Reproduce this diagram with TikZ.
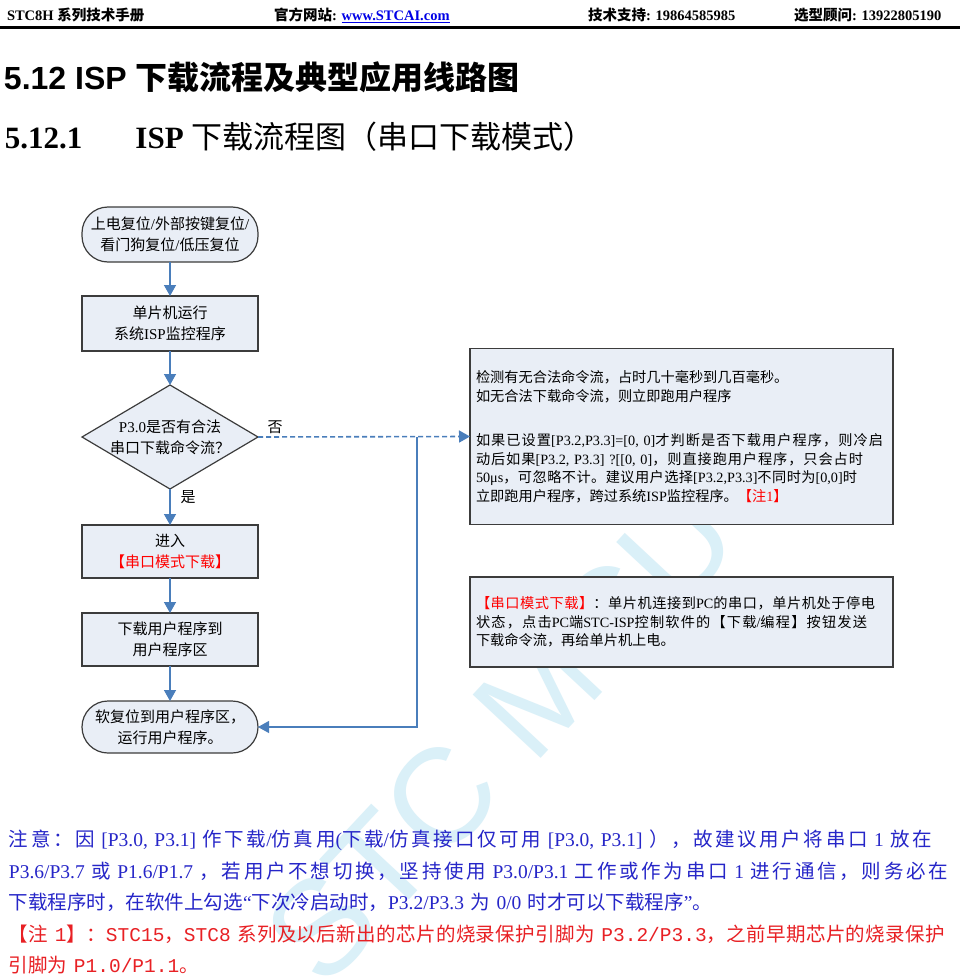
\documentclass[tikz,border=0pt]{standalone}
\usepackage{fontspec}
\setmainfont{Liberation Serif}
\setsansfont{Liberation Sans}
\setmonofont{Liberation Mono}
\newfontfamily\cjkf{Noto Sans CJK SC}
\newfontfamily\halfmono{Liberation Mono}
\usetikzlibrary{arrows.meta}

\XeTeXinterchartokenstate=1
\newXeTeXintercharclass\CJKcls
\makeatletter
\def\setcjkrange#1#2{\count@=#1\relax
  \loop\XeTeXcharclass\count@=\CJKcls\relax
  \ifnum\count@<#2\relax\advance\count@\@ne\repeat}
\setcjkrange{"3000}{"303F}
\setcjkrange{"4E00}{"9FFF}
\setcjkrange{"FF00}{"FFEF}
\makeatother
\def\latinfam{\rmfamily}
\XeTeXinterchartoks 0 \CJKcls = {\cjkf}
\XeTeXinterchartoks 4095 \CJKcls = {\cjkf}
\XeTeXinterchartoks \CJKcls 0 = {\latinfam}
\XeTeXinterchartoks \CJKcls 4095 = {\latinfam}
\XeTeXinterchartoks \CJKcls \CJKcls = {\hskip0pt plus 1pt\relax}

\definecolor{boxfill}{RGB}{233,238,246}
\definecolor{boxdraw}{RGB}{60,60,60}
\definecolor{arrowblue}{RGB}{74,126,187}
\definecolor{noteblue}{RGB}{38,38,200}
\definecolor{notered}{RGB}{232,32,36}
\definecolor{wmcol}{RGB}{218,240,248}
\definecolor{urlblue}{RGB}{0,0,230}

\begin{document}
\begin{tikzpicture}[x=1pt,y=-1pt,
  every node/.style={inner sep=0pt, outer sep=0pt},
  hdr/.style={anchor=west, font=\bfseries\fontsize{14.5}{16}\selectfont},
  fcbox/.style={draw=boxdraw, fill=boxfill, line width=1.2pt, minimum width=176pt,
    align=center, font=\fontsize{15}{21}\selectfont},
  proc/.style={fcbox},
  term/.style={fcbox, rounded corners=26pt},
  flow/.style={draw=arrowblue, line width=1.4pt, -{Triangle[length=11pt,width=12pt]}},
  lbl/.style={font=\fontsize{15}{18}\selectfont},
  infobox/.style={draw=boxdraw, fill=boxfill, line width=1.2pt, text width=411pt,
    inner xsep=6pt, align=left, font=\fontsize{14.2}{18.5}\selectfont},
  note/.style={anchor=north west, text width=945pt, align=left,
    font=\fontsize{19.5}{31.5}\selectfont},
]
\path[use as bounding box, fill=white] (0,0) rectangle (960,979);

% watermark
\node[font=\sffamily\fontsize{135}{135}\selectfont, text=wmcol, rotate=47] (wm) at (500,735) {STC MCU};

% header
\node[hdr] (h1) at (7,15) {STC8H 系列技术手册};
\node[hdr] (h2) at (274,15) {官方网站: \textcolor{urlblue}{\underline{www.STCAI.com}}};
\node[hdr] (h3) at (588,15) {技术支持: 19864585985};
\node[hdr] (h4) at (794,15) {选型顾问: 13922805190};
\draw[line width=2.5pt] (0,27.5) -- (960,27.5);

% titles
\node[anchor=west, font=\def\latinfam{\sffamily}\sffamily\bfseries\fontsize{32}{34}\selectfont] (t1title) at (4,77) {5.12 ISP 下载流程及典型应用线路图};
\node[anchor=west, font=\fontsize{31}{34}\selectfont] (t2title) at (5,137) {{\bfseries 5.12.1}\hspace{53pt}{\bfseries ISP} 下载流程图（串口下载模式）};

% flowchart
\node[term, minimum height=55pt] (s) at (170,234.5) {上电复位/外部按键复位/\\看门狗复位/低压复位};
\node[proc, minimum height=55pt] (p1) at (170,323.5) {单片机运行\\系统ISP监控程序};
\coordinate (dn) at (170,385);
\coordinate (de) at (258,437);
\coordinate (ds) at (170,489);
\coordinate (dw) at (82,437);
\filldraw[draw=boxdraw, fill=boxfill, line width=1.2pt] (dn) -- (de) -- (ds) -- (dw) -- cycle;
\node[align=center, font=\fontsize{15}{21}\selectfont] (d) at (170,437) {P3.0是否有合法\\串口下载命令流？};
\node[proc, minimum height=53pt] (p2) at (170,551.5) {进入\\\color{red}【串口模式下载】};
\node[proc, minimum height=53pt] (p3) at (170,639.5) {下载用户程序到\\用户程序区};
\node[term, minimum height=52pt] (e) at (170,727) {软复位到用户程序区，\\运行用户程序。};

\node[infobox, minimum height=176pt] (rb1) at (681.5,436.5) {检测有无合法命令流，占时几十毫秒到几百毫秒。\\
如无合法下载命令流，则立即跑用户程序\\[26pt]
\makebox[407pt][s]{如果已设置[P3.2,P3.3]=[0, 0]才判断是否下载用户程序，则冷启}\\
\makebox[387pt][s]{动后如果[P3.2, P3.3] ?[[0, 0]，则直接跑用户程序，只会占时}\\
\makebox[381pt][s]{50μs，可忽略不计。建议用户选择[P3.2,P3.3]不同时为[0,0]时}\\
立即跑用户程序，跨过系统ISP监控程序。\color{red}【注1】};

\node[infobox, minimum height=90pt] (rb2) at (681.5,622) {\makebox[399pt][s]{\color{red}【串口模式下载】\color{black}：单片机连接到PC的串口，单片机处于停电}\\
\makebox[391pt][s]{状态，点击PC端STC-ISP控制软件的【下载/编程】按钮发送}\\
下载命令流，再给单片机上电。};

% connectors
\draw[flow] (s) -- (p1);
\draw[flow] (p1) -- (dn);
\draw[flow] (ds) -- (p2);
\draw[flow] (p2) -- (p3);
\draw[flow] (p3) -- (e);
\draw[flow, line width=1.6pt, dash pattern=on 5pt off 3pt] (de) -- (rb1.west);
\coordinate (j) at (417,437);
\coordinate (k) at (417,727);
\draw[flow, line width=1.1pt] (j) -- (k) -- (e.east);
\node[lbl] (no) at (275,427) {否};
\node[lbl] (yes) at (188,497) {是};

% notes
\node[note, text=noteblue] (n1) at (9,830) {\makebox[923pt][s]{注意：因 [P3.0, P3.1] 作下载/仿真用(下载/仿真接口仅可用 [P3.0, P3.1] ），故建议用户将串口 1 放在}\\
\makebox[939pt][s]{P3.6/P3.7 或 P1.6/P1.7 ，若用户不想切换，坚持使用 P3.0/P3.1 工作或作为串口 1 进行通信，则务必在}\\
下载程序时，在软件上勾选“下次冷启动时，P3.2/P3.3 为 0/0 时才可以下载程序”。};
\node[note, text=notered, font=\def\latinfam{\halfmono}\fontsize{19.5}{31.5}\selectfont] (n2) at (9,924.5) {\makebox[936pt][s]{【注 1】：STC15，STC8 系列及以后新出的芯片的烧录保护引脚为 P3.2/P3.3，之前早期芯片的烧录保护}\\
引脚为 P1.0/P1.1。};
\end{tikzpicture}
\end{document}
